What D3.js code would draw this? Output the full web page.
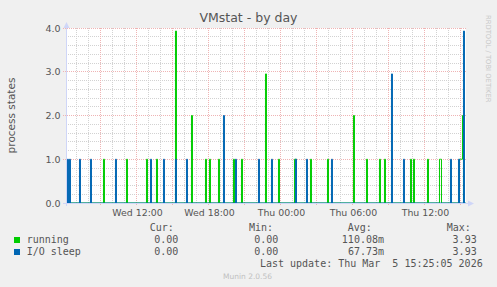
<!DOCTYPE html>
<html>
<head>
<meta charset="utf-8">
<script src="https://cdn.jsdelivr.net/npm/d3@7"></script>
<style>
  body { margin: 0; background: #f0f0f0; }
  svg { display: block; }
  text { font-family: "DejaVu Sans", sans-serif; fill: #555; }
  .mono { font-family: "DejaVu Sans Mono", monospace; font-size: 10px; white-space: pre; }
</style>
</head>
<body>
<script>
// 5 minute samples, only the non zero ones are listed (everything else is 0)
var runningTimes = ["03-04 09:20", "03-04 11:15", "03-04 12:55", "03-04 13:45", "03-04 15:20",
    "03-04 16:40", "03-04 17:50", "03-04 18:10", "03-04 18:55", "03-04 20:10", "03-04 20:50",
    "03-04 22:50", "03-04 23:55", "03-05 01:15", "03-05 01:20", "03-05 02:35", "03-05 04:00",
    "03-05 06:10", "03-05 07:15", "03-05 08:20", "03-05 08:45", "03-05 10:55", "03-05 11:10",
    "03-05 12:20", "03-05 13:20", "03-05 13:25", "03-05 15:00", "03-05 15:05", "03-05 15:10",
    "03-05 15:15"];
var runningValues = [1, 1, 1, 1, 3.93,
    2, 1, 1, 1, 1, 1,
    2.95, 1, 1, 1, 1, 1,
    2, 1, 1, 1, 1, 1,
    1, 1, 1, 1, 1, 1,
    2];

var ioTimes = ["03-04 06:20", "03-04 06:30", "03-04 07:20", "03-04 08:15", "03-04 10:20",
    "03-04 13:15", "03-04 14:20", "03-04 15:20", "03-04 16:15", "03-04 19:20", "03-04 20:20",
    "03-04 22:15", "03-04 23:20", "03-05 01:20", "03-05 02:15", "03-05 04:20", "03-05 09:20",
    "03-05 10:20", "03-05 14:15", "03-05 14:55", "03-05 15:20"];
var ioValues = [1, 1, 1, 1, 1,
    1, 1, 1, 1, 2, 1,
    1, 1, 1, 1, 1, 2.95,
    1, 1, 1, 3.93];

var yTicks = [0, 1, 2, 3, 4];
var xLabelTimes = ["03-04 12:00", "03-04 18:00", "03-05 00:00", "03-05 06:00", "03-05 12:00"];

var legendNames = ["running", "I/O sleep"];
var legendColors = ["#00cc00", "#0066b3"];
var statHeads = ["Cur:", "Min:", "Avg:", "Max:"];
var statRows = [["0.00", "0.00", "110.08m", "3.93"],
                ["0.00", "0.00", "67.73m", "3.93"]];
var lastUpdate = "Last update: Thu Mar  5 15:25:05 2026";

var width = 497,
    height = 287;

var parseTime = d3.timeParse("%Y-%m-%d %H:%M");
function t(s) { return parseTime("2026-" + s); }

var end = new Date(2026, 2, 5, 15, 25, 5),
    start = new Date(end.getTime() - 400 * 300 * 1000);

var x = d3.scaleTime().domain([start, end]).range([65.5, 465.5]);
var y = d3.scaleLinear().domain([0, 4]).range([203, 28]);

function px(v) { return Math.floor(v) + 0.5; }

// expand sparse spikes into a full 5 min series
function buildSeries(times, values) {
    var lookup = {};
    times.forEach(function(s, i) { lookup[+t(s)] = values[i]; });
    var pts = [];
    var step = d3.timeMinute.every(5);
    step.range(step.ceil(start), d3.timeSecond.offset(end, 1)).forEach(function(d) {
        pts.push({ time: d, value: lookup[+d] || 0 });
    });
    return pts;
}

var svg = d3.select("body").append("svg")
    .attr("width", width)
    .attr("height", height)
    .style("background", "#f0f0f0");

svg.append("rect")
    .attr("x", 66).attr("y", 28)
    .attr("width", 400).attr("height", 175)
    .attr("fill", "#ffffff");

// grid
var grid = svg.append("g").attr("shape-rendering", "crispEdges");
var hours = d3.timeHour.every(1).range(start, end);
grid.selectAll(".vminor")
    .data(hours.filter(function(d) { return d.getHours() % 3 !== 0; }))
    .enter().append("line")
    .attr("x1", function(d) { return px(x(d)); })
    .attr("x2", function(d) { return px(x(d)); })
    .attr("y1", 28).attr("y2", 203)
    .attr("stroke", "#d2d2d2").attr("stroke-dasharray", "1,1");

var minorY = d3.range(1, 20).filter(function(i) { return i % 5 !== 0; }).map(function(i) { return i * 0.2; });
grid.selectAll(".hminor")
    .data(minorY)
    .enter().append("line")
    .attr("x1", 66).attr("x2", 466)
    .attr("y1", function(d) { return px(y(d)); })
    .attr("y2", function(d) { return px(y(d)); })
    .attr("stroke", "#d2d2d2").attr("stroke-dasharray", "1,1");

grid.selectAll(".vmajor")
    .data(hours.filter(function(d) { return d.getHours() % 3 === 0; }))
    .enter().append("line")
    .attr("x1", function(d) { return px(x(d)); })
    .attr("x2", function(d) { return px(x(d)); })
    .attr("y1", 28).attr("y2", 206)
    .attr("stroke", "#efb4b4").attr("stroke-dasharray", "1,1");

grid.selectAll(".hmajor")
    .data(yTicks)
    .enter().append("line")
    .attr("x1", 63).attr("x2", 466)
    .attr("y1", function(d) { return px(y(d)); })
    .attr("y2", function(d) { return px(y(d)); })
    .attr("stroke", "#efb4b4").attr("stroke-dasharray", "1,1");

// series
var line = d3.line()
    .x(function(d) { return x(d.time); })
    .y(function(d) { return y(d.value); })
    .curve(d3.curveStepBefore);

svg.append("path")
    .datum(buildSeries(runningTimes, runningValues))
    .attr("d", line)
    .attr("fill", "none")
    .attr("stroke", legendColors[0])
    .attr("stroke-width", 1);

svg.append("path")
    .datum(buildSeries(ioTimes, ioValues))
    .attr("d", line)
    .attr("fill", "none")
    .attr("stroke", legendColors[1])
    .attr("stroke-width", 1);

// axes with arrows
var axisColor = "#cfd6f8";
svg.append("line")
    .attr("x1", 63).attr("x2", 470).attr("y1", 203.5).attr("y2", 203.5)
    .attr("stroke", axisColor).attr("shape-rendering", "crispEdges");
svg.append("line")
    .attr("x1", 66.5).attr("x2", 66.5).attr("y1", 206).attr("y2", 25)
    .attr("stroke", axisColor).attr("shape-rendering", "crispEdges");
svg.append("path")
    .attr("d", "M468,200.5 L474,203.5 L468,206.5 Z")
    .attr("fill", axisColor);
svg.append("path")
    .attr("d", "M63.5,28 L66.5,22 L69.5,28 Z")
    .attr("fill", axisColor);

// tick labels
svg.selectAll(".ylab")
    .data(yTicks)
    .enter().append("text")
    .attr("x", 60.5)
    .attr("y", function(d) { return y(d) + 3.5; })
    .attr("text-anchor", "end")
    .style("font-size", "9.5px")
    .text(function(d) { return d3.format(".1f")(d); });

svg.selectAll(".xlab")
    .data(xLabelTimes)
    .enter().append("text")
    .attr("x", function(d) { return px(x(t(d))) + 1; })
    .attr("y", 216)
    .attr("text-anchor", "middle")
    .style("font-size", "9.4px")
    .text(function(d) { return d3.timeFormat("%a %H:%M")(t(d)); });

// titles
svg.append("text")
    .attr("x", 248.5).attr("y", 22)
    .attr("text-anchor", "middle")
    .style("font-size", "12.5px")
    .text("VMstat - by day");

svg.append("text")
    .attr("transform", "translate(14.5,115.5) rotate(-90)")
    .attr("text-anchor", "middle")
    .style("font-size", "10.5px")
    .text("process states");

svg.append("text")
    .attr("transform", "translate(485.5,15) rotate(90)")
    .style("font-size", "6.8px")
    .style("fill", "#c8c8c8")
    .text("RRDTOOL / TOBI OETIKER");

// legend
var headX = [149.7, 249, 347.7, 446.7],
    valX = [178.3, 278.3, 384, 476.7];

svg.selectAll(".head")
    .data(statHeads)
    .enter().append("text")
    .attr("class", "mono")
    .attr("x", function(d, i) { return headX[i]; })
    .attr("y", 231)
    .text(function(d) { return d; });

var rows = svg.selectAll(".row")
    .data(legendNames)
    .enter().append("g")
    .attr("transform", function(d, i) { return "translate(0," + (243 + i * 12) + ")"; });

rows.append("rect")
    .attr("x", 14).attr("y", -6)
    .attr("width", 6).attr("height", 6)
    .attr("fill", function(d, i) { return legendColors[i]; });

rows.append("text")
    .attr("class", "mono")
    .attr("x", 26.7)
    .text(function(d) { return d; });

rows.each(function(d, i) {
    d3.select(this).selectAll(".val")
        .data(statRows[i])
        .enter().append("text")
        .attr("class", "mono")
        .attr("x", function(v, j) { return valX[j]; })
        .attr("text-anchor", "end")
        .text(function(v) { return v; });
});

svg.append("text")
    .attr("class", "mono")
    .attr("x", 482.7).attr("y", 267)
    .attr("text-anchor", "end")
    .text(lastUpdate);

svg.append("text")
    .attr("x", 247.5).attr("y", 279)
    .attr("text-anchor", "middle")
    .style("font-size", "7.5px")
    .style("fill", "#c0c0c0")
    .text("Munin 2.0.56");
</script>
</body>
</html>
